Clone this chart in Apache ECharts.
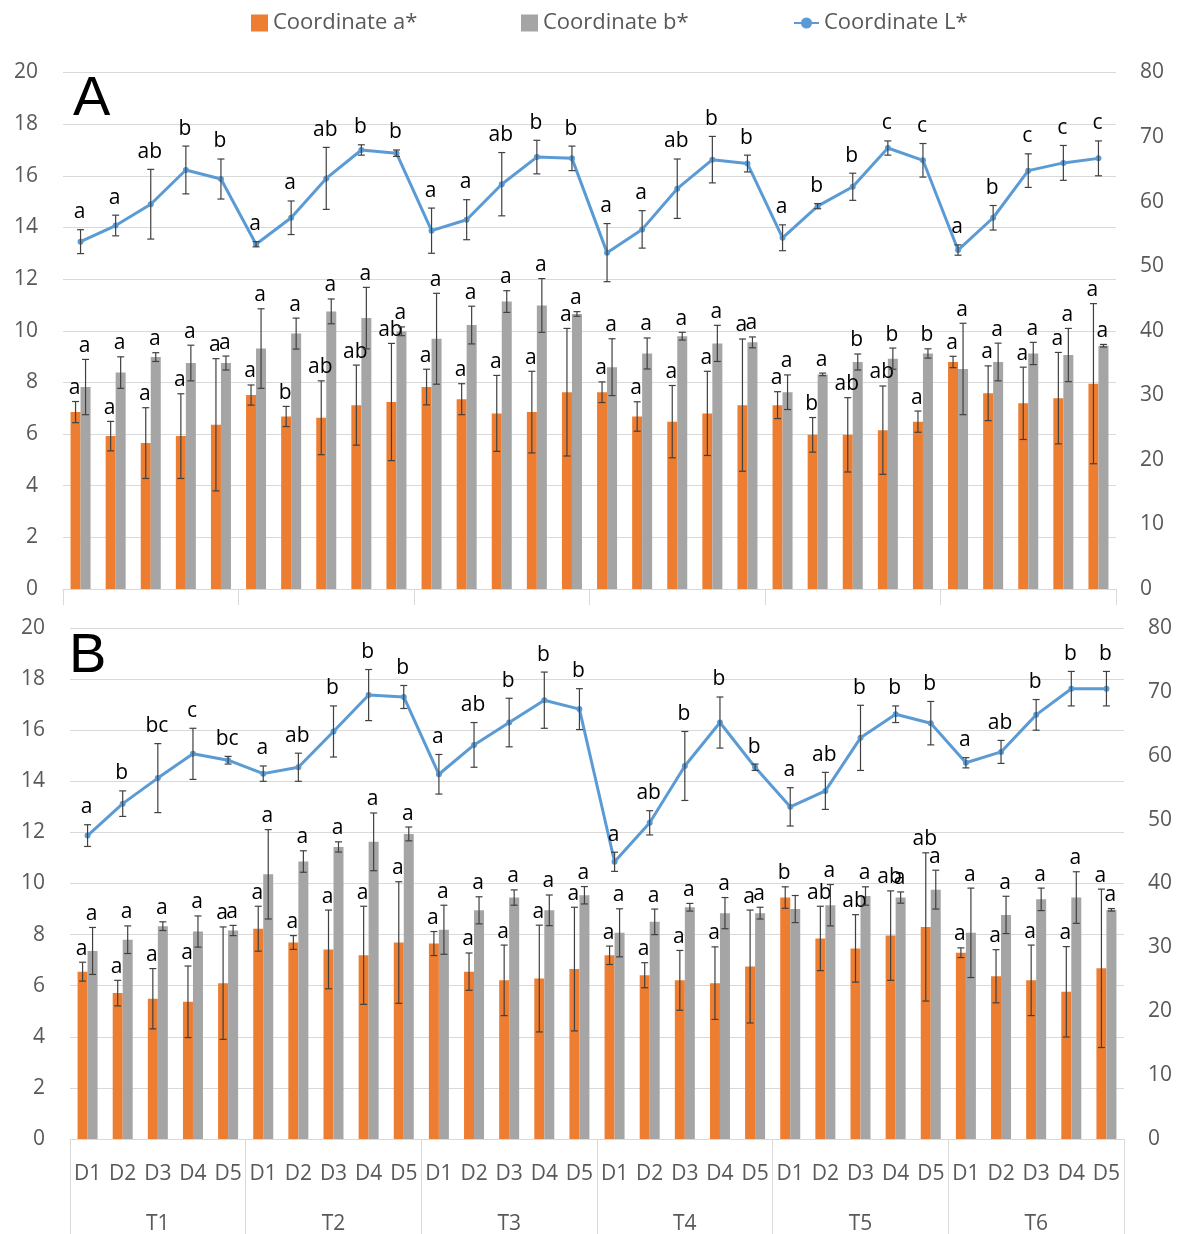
<!DOCTYPE html>
<html><head><meta charset="utf-8">
<script src="https://cdn.jsdelivr.net/npm/echarts@6/dist/echarts.min.js"></script>
<style>html,body{margin:0;padding:0;background:#fff}#c{width:1178px;height:1234px}</style>
</head><body><div id="c"></div>
<script>
// ---------- categories ----------
const dayLabels = ['D1', 'D2', 'D3', 'D4', 'D5'];
const groupLabels = ['T1', 'T2', 'T3', 'T4', 'T5', 'T6'];
const categories = groupLabels.flatMap(g => dayLabels.map(d => g + ' ' + d));
const leftTicks = { min: 0, max: 20, interval: 2 };
const rightTicks = { min: 0, max: 80, interval: 10 };

// ---------- Panel A ----------
const A_a = [6.85, 5.92, 5.65, 5.92, 6.36, 7.51, 6.68, 6.63, 7.12, 7.24, 7.82, 7.35, 6.80, 6.85, 7.62,
             7.62, 6.68, 6.48, 6.80, 7.12, 7.12, 5.97, 5.97, 6.15, 6.48, 8.79, 7.58, 7.19, 7.39, 7.95];
const A_a_err = [0.41, 0.57, 1.37, 1.64, 2.56, 0.39, 0.39, 1.43, 1.55, 2.27, 0.69, 0.60, 1.47, 1.58, 2.47,
                 0.40, 0.57, 1.40, 1.63, 2.56, 0.52, 0.67, 1.44, 1.71, 0.41, 0.22, 1.06, 1.40, 1.77, 3.10];
const A_a_let = ['a','a','a','a','a', 'a','b','ab','ab','ab', 'a','a','a','a','a',
                 'a','a','a','a','a', 'a','b','ab','ab','a', 'a','a','a','a','a'];
const A_b = [7.82, 8.38, 8.98, 8.75, 8.75, 9.31, 9.89, 10.75, 10.49, 9.98, 9.69, 10.22, 11.13, 10.98, 10.65,
             8.59, 9.12, 9.79, 9.51, 9.55, 7.62, 8.31, 8.79, 8.92, 9.12, 8.52, 8.79, 9.12, 9.06, 9.42];
const A_b_err = [1.07, 0.61, 0.17, 0.69, 0.27, 1.54, 0.60, 0.48, 1.19, 0.17, 1.76, 0.73, 0.42, 1.04, 0.09,
                 1.10, 0.60, 0.15, 0.70, 0.21, 0.67, 0.05, 0.31, 0.41, 0.18, 1.77, 0.73, 0.43, 1.03, 0.05];
const A_b_let = ['a','a','a','a','a', 'a','a','a','a','a', 'a','a','a','a','a',
                 'a','a','a','a','a', 'a','a','b','b','b', 'a','a','a','a','a'];
const A_L = [53.8, 56.3, 59.6, 64.9, 63.5, 53.4, 57.5, 63.6, 68.0, 67.5, 55.5, 57.2, 62.7, 66.9, 66.7,
             52.1, 55.7, 62.0, 66.5, 65.9, 54.4, 59.3, 62.3, 68.3, 66.4, 52.5, 57.5, 64.8, 66.0, 66.7];
const A_L_err = [1.85, 1.6, 5.4, 3.7, 3.1, 0.4, 2.6, 4.8, 0.8, 0.5, 3.5, 3.1, 4.9, 2.6, 1.9,
                 4.5, 2.9, 4.6, 3.6, 1.3, 2.0, 0.4, 2.1, 1.1, 2.6, 0.8, 1.9, 2.6, 2.7, 2.7];
const A_L_let = ['a','a','ab','b','b', 'a','a','ab','b','b', 'a','a','ab','b','b',
                 'a','a','ab','b','b', 'a','b','b','c','c', 'a','b','c','c','c'];

// ---------- Panel B ----------
const B_a = [6.55, 5.71, 5.49, 5.37, 6.10, 8.23, 7.69, 7.42, 7.19, 7.69, 7.65, 6.55, 6.21, 6.28, 6.65,
             7.19, 6.41, 6.21, 6.10, 6.75, 9.45, 7.85, 7.46, 7.96, 8.30, 7.29, 6.37, 6.21, 5.76, 6.68];
const B_a_err = [0.37, 0.50, 1.18, 1.40, 2.20, 0.88, 0.27, 1.54, 1.92, 2.38, 0.47, 0.73, 1.38, 2.09, 2.42,
                 0.36, 0.49, 1.17, 1.42, 2.21, 0.42, 1.26, 1.32, 1.75, 2.90, 0.19, 1.04, 1.38, 1.77, 3.10];
const B_a_let = ['a','a','a','a','a', 'a','a','a','a','a', 'a','a','a','a','a',
                 'a','a','a','a','a', 'b','ab','ab','ab','ab', 'a','a','a','a','a'];
const B_b = [7.36, 7.80, 8.33, 8.12, 8.16, 10.36, 10.86, 11.43, 11.63, 11.94, 8.19, 8.95, 9.45, 8.95, 9.54,
             8.07, 8.50, 9.07, 8.84, 8.84, 9.00, 9.15, 9.51, 9.45, 9.76, 8.07, 8.77, 9.38, 9.45, 8.97];
const B_b_err = [0.92, 0.54, 0.17, 0.61, 0.20, 1.75, 0.42, 0.20, 1.13, 0.27, 0.96, 0.53, 0.30, 0.60, 0.34,
                 0.94, 0.50, 0.15, 0.61, 0.23, 0.53, 0.81, 0.36, 0.22, 0.76, 1.75, 0.73, 0.44, 1.01, 0.05];
const B_b_let = ['a','a','a','a','a', 'a','a','a','a','a', 'a','a','a','a','a',
                 'a','a','a','a','a', '','a','a','a','a', 'a','a','a','a','a'];
const B_L = [47.5, 52.5, 56.5, 60.3, 59.3, 57.2, 58.2, 63.8, 69.5, 69.2, 57.1, 61.7, 65.2, 68.7, 67.3,
             43.4, 49.5, 58.4, 65.2, 58.2, 52.0, 54.5, 62.8, 66.5, 65.1, 58.9, 60.6, 66.4, 70.5, 70.5];
const B_L_err = [1.7, 2.0, 5.4, 4.0, 0.6, 1.2, 2.2, 4.0, 4.0, 1.8, 3.1, 3.5, 3.8, 4.4, 3.2,
                 1.5, 1.9, 5.4, 4.0, 0.5, 3.0, 2.9, 5.1, 1.3, 3.4, 0.8, 1.8, 2.4, 2.7, 2.7];
const B_L_let = ['a','b','bc','c','bc', 'a','ab','b','b','b', 'a','ab','b','b','b',
                 'a','ab','b','b','b', 'a','ab','b','b','b', 'a','ab','b','b','b'];

// ---------- style ----------
const COL_A = '#ED7D31', COL_B = '#A5A5A5', COL_L = '#5B9BD5';
const FONT = '"Open Sans", "Noto Sans", sans-serif';
const TXT = '#595959', GRID = '#d9d9d9';
const BAR_W = 10;

function errSeries(xi, yi, vals, errs, lets, offset, gap) {
  return {
    type: 'custom', xAxisIndex: xi, yAxisIndex: yi, z: 10, silent: true, clip: false,
    data: vals.map((v, i) => [i, v, errs[i]]),
    encode: { x: 0, y: 1 },
    renderItem(params, api) {
      const i = api.value(0), v = api.value(1), e = api.value(2);
      const top = api.coord([i, v + e]);
      const bot = api.coord([i, v - e]);
      const x = top[0] + offset;
      const c = 3.5;
      const st = { stroke: '#404040', lineWidth: 1.2 };
      const ch = [
        { type: 'line', shape: { x1: x, y1: top[1], x2: x, y2: bot[1] }, style: st },
        { type: 'line', shape: { x1: x - c, y1: top[1], x2: x + c, y2: top[1] }, style: st },
        { type: 'line', shape: { x1: x - c, y1: bot[1], x2: x + c, y2: bot[1] }, style: st }
      ];
      const t = lets[params.dataIndex];
      if (t) ch.push({ type: 'text', style: { text: t, x: x - 1, y: top[1] - gap, align: 'center',
        verticalAlign: 'bottom', font: '21px ' + FONT, fill: '#000' } });
      return { type: 'group', children: ch };
    }
  };
}

function mainX(gi, showLabels) {
  return { type: 'category', gridIndex: gi, data: categories, position: 'bottom',
    axisLine: { show: true, lineStyle: { color: GRID, width: 1 } },
    axisTick: { show: false },
    axisLabel: { show: showLabels, interval: 0, margin: 25, fontSize: 21, color: TXT, fontFamily: FONT,
      formatter: v => v.split(' ')[1] } };
}
function groupX(gi, tickLen, showLabels) {
  return { type: 'category', gridIndex: gi, data: groupLabels, position: 'bottom',
    axisLine: { show: false },
    axisTick: { show: true, length: tickLen, interval: 0, lineStyle: { color: GRID } },
    axisLabel: { show: showLabels, interval: 0, margin: 75, fontSize: 21, color: TXT, fontFamily: FONT },
    splitLine: { show: false } };
}
function leftY(gi) {
  return { type: 'value', gridIndex: gi, position: 'left', ...leftTicks,
    axisLine: { show: false }, axisTick: { show: false },
    axisLabel: { margin: 25, fontSize: 21, color: TXT, fontFamily: FONT },
    splitLine: { lineStyle: { color: GRID, width: 1 } } };
}
function rightY(gi) {
  return { type: 'value', gridIndex: gi, position: 'right', ...rightTicks,
    axisLine: { show: false }, axisTick: { show: false },
    axisLabel: { margin: 24, fontSize: 21, color: TXT, fontFamily: FONT },
    splitLine: { show: false } };
}
function bars(name, xi, yi, data, color) {
  return { type: 'bar', name, xAxisIndex: xi, yAxisIndex: yi, data, barWidth: BAR_W, barGap: '0%',
    itemStyle: { color }, z: 2 };
}
function line(xi, yi, data) {
  return { type: 'line', name: 'Coordinate L*', xAxisIndex: xi, yAxisIndex: yi, data,
    symbol: 'circle', symbolSize: 6, lineStyle: { width: 3, color: COL_L },
    itemStyle: { color: COL_L }, z: 5 };
}

const legendText = { fontSize: 22, color: TXT, fontFamily: FONT };
const option = {
  animation: false,
  backgroundColor: '#fff',
  legend: [
    { left: 246, top: 7, data: [{ name: 'Coordinate a*', icon: 'rect' }], itemWidth: 17, itemHeight: 17, textStyle: legendText },
    { left: 516, top: 7, data: [{ name: 'Coordinate b*', icon: 'rect' }], itemWidth: 17, itemHeight: 17, textStyle: legendText },
    { left: 788, top: 7, data: ['Coordinate L*'], itemWidth: 25, itemHeight: 14, textStyle: legendText }
  ],
  grid: [
    { left: 63, right: 62, top: 72.5, height: 516.5, containLabel: false, outerBoundsMode: 'none' },
    { left: 70, right: 54, top: 628, height: 511, containLabel: false, outerBoundsMode: 'none' }
  ],
  xAxis: [mainX(0, false), groupX(0, 16, false), mainX(1, true), groupX(1, 95, true)],
  yAxis: [leftY(0), rightY(0), leftY(1), rightY(1)],
  graphic: [
    { type: 'text', left: 73, top: 72, style: { text: 'A', font: '56px "Liberation Sans", sans-serif', fill: '#000' } },
    { type: 'text', left: 69, top: 629, style: { text: 'B', font: '56px "Liberation Sans", sans-serif', fill: '#000' } }
  ],
  series: [
    bars('Coordinate a*', 0, 0, A_a, COL_A),
    bars('Coordinate b*', 0, 0, A_b, COL_B),
    line(0, 1, A_L),
    bars('Coordinate a*', 2, 2, B_a, COL_A),
    bars('Coordinate b*', 2, 2, B_b, COL_B),
    line(2, 3, B_L),
    errSeries(0, 0, A_a, A_a_err, A_a_let, -BAR_W / 2, 3),
    errSeries(0, 0, A_b, A_b_err, A_b_let, BAR_W / 2, 3),
    errSeries(0, 1, A_L, A_L_err, A_L_let, 0, 7),
    errSeries(2, 2, B_a, B_a_err, B_a_let, -BAR_W / 2, 3),
    errSeries(2, 2, B_b, B_b_err, B_b_let, BAR_W / 2, 3),
    errSeries(2, 3, B_L, B_L_err, B_L_let, 0, 7)
  ]
};
const chart = echarts.init(document.getElementById('c'), null, { renderer: 'canvas' });
chart.setOption(option);
</script>
</body></html>
